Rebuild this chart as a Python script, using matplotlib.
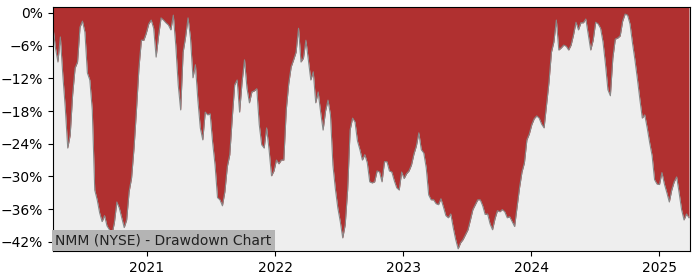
import numpy as np
import pandas as pd
import matplotlib
matplotlib.use("Agg")
import matplotlib.pyplot as plt
import matplotlib.dates as mdates
from matplotlib.ticker import FuncFormatter

# weekly drawdown (%)
dd = [-2.6, -6.4, -9.0, -4.4, -11.4, -17.4, -24.8, -22.4, -15.0, -10.1,
      -9.0, -2.6, -1.5, -3.5, -11.0, -12.3, -17.8, -32.5, -34.3, -36.7,
      -38.3, -37.2, -39.1, -39.8, -40.7, -38.5, -34.7, -35.8, -37.6, -39.4,
      -38.0, -32.8, -30.3, -24.8, -17.8, -10.1, -5.0, -5.0, -3.7, -2.0,
      -1.3, -2.8, -8.1, -4.2, -0.9, -1.3, -1.8, -2.2, -3.1, -0.4,
      -5.9, -13.2, -17.8, -7.2, -4.4, -0.9, -4.6, -11.9, -9.5, -16.0,
      -21.1, -23.3, -18.2, -18.7, -18.5, -23.7, -27.9, -33.9, -34.3, -35.4,
      -32.8, -28.2, -26.0, -19.3, -13.2, -12.3, -18.2, -12.7, -8.6, -13.8,
      -16.5, -14.5, -14.3, -13.9, -20.5, -24.2, -24.8, -21.1, -25.1, -29.9,
      -29.0, -27.0, -27.7, -27.0, -27.0, -17.8, -13.0, -9.9, -8.6, -7.2,
      -2.8, -9.0, -8.3, -5.0, -8.6, -12.3, -10.8, -16.5, -14.5, -18.2,
      -21.5, -18.0, -16.0, -18.7, -27.9, -32.3, -35.8, -38.3, -41.3, -38.9,
      -32.5, -21.5, -19.3, -20.0, -23.5, -25.1, -27.0, -26.0, -27.5, -31.0,
      -31.2, -31.0, -29.0, -29.2, -31.0, -27.3, -27.3, -29.0, -29.2, -30.8,
      -32.1, -32.5, -29.2, -30.4, -29.5, -29.0, -27.9, -25.9, -24.4, -22.0,
      -25.1, -25.7, -28.4, -33.4, -34.3, -34.3, -35.0, -35.2, -34.1, -35.6,
      -37.2, -37.6, -36.9, -39.4, -41.6, -43.3, -42.2, -41.6, -40.7, -39.8,
      -38.0, -36.1, -35.2, -34.3, -34.3, -35.4, -37.0, -36.9, -38.7, -39.8,
      -37.8, -36.3, -36.5, -36.1, -36.5, -37.6, -37.4, -38.3, -39.2, -35.6,
      -32.1, -29.2, -27.5, -23.3, -22.2, -20.5, -19.4, -18.9, -19.3, -20.4,
      -21.1, -16.9, -12.7, -7.2, -5.3, -1.3, -6.8, -6.4, -5.9, -6.1,
      -6.8, -5.9, -4.0, -1.7, -3.1, -1.8, -1.8, -1.1, -4.0, -6.8,
      -5.0, -1.7, -2.0, -2.8, -5.3, -9.4, -14.1, -15.2, -8.3, -4.8,
      -4.6, -4.2, -1.5, -0.2, -0.4, -2.0, -5.5, -8.6, -12.1, -15.8,
      -19.3, -18.7, -21.1, -23.8, -26.2, -30.6, -31.4, -31.5, -29.3, -31.4,
      -33.0, -34.7, -32.5, -31.0, -30.1, -33.0, -36.1, -38.0, -36.9, -37.6]

dates = pd.date_range("2020-04-08", periods=len(dd), freq="7D")
dd = np.array(dd)

fig = plt.figure(figsize=(7, 2.8), dpi=100)
ax = fig.add_axes([0.0757, 0.1036, 0.91, 0.8714])
ax.set_facecolor("#eeeeee")

top = 1.1
ax.fill_between(dates, dd, top, color="#b03030", linewidth=0)
ax.plot(dates, dd, color="#888888", linewidth=0.8)

ax.set_xlim(pd.Timestamp("2020-04-08"), pd.Timestamp("2025-03-29"))
ax.set_ylim(-43.7, top)
ax.set_yticks(np.arange(-42, 1, 6))
ax.yaxis.set_major_formatter(FuncFormatter(lambda v, p: f"{v:.0f}%".replace("-", "\u2212")))
ax.xaxis.set_major_locator(mdates.YearLocator())
ax.xaxis.set_major_formatter(mdates.DateFormatter("%Y"))

ax.text(0.0035, 0.015, "NMM (NYSE) - Drawdown Chart", transform=ax.transAxes,
        fontsize=10, color="#222222", va="bottom", ha="left", zorder=5,
        bbox=dict(facecolor="#b4b4b4", edgecolor="none", pad=2.5))

fig.savefig("out.png", dpi=100)
